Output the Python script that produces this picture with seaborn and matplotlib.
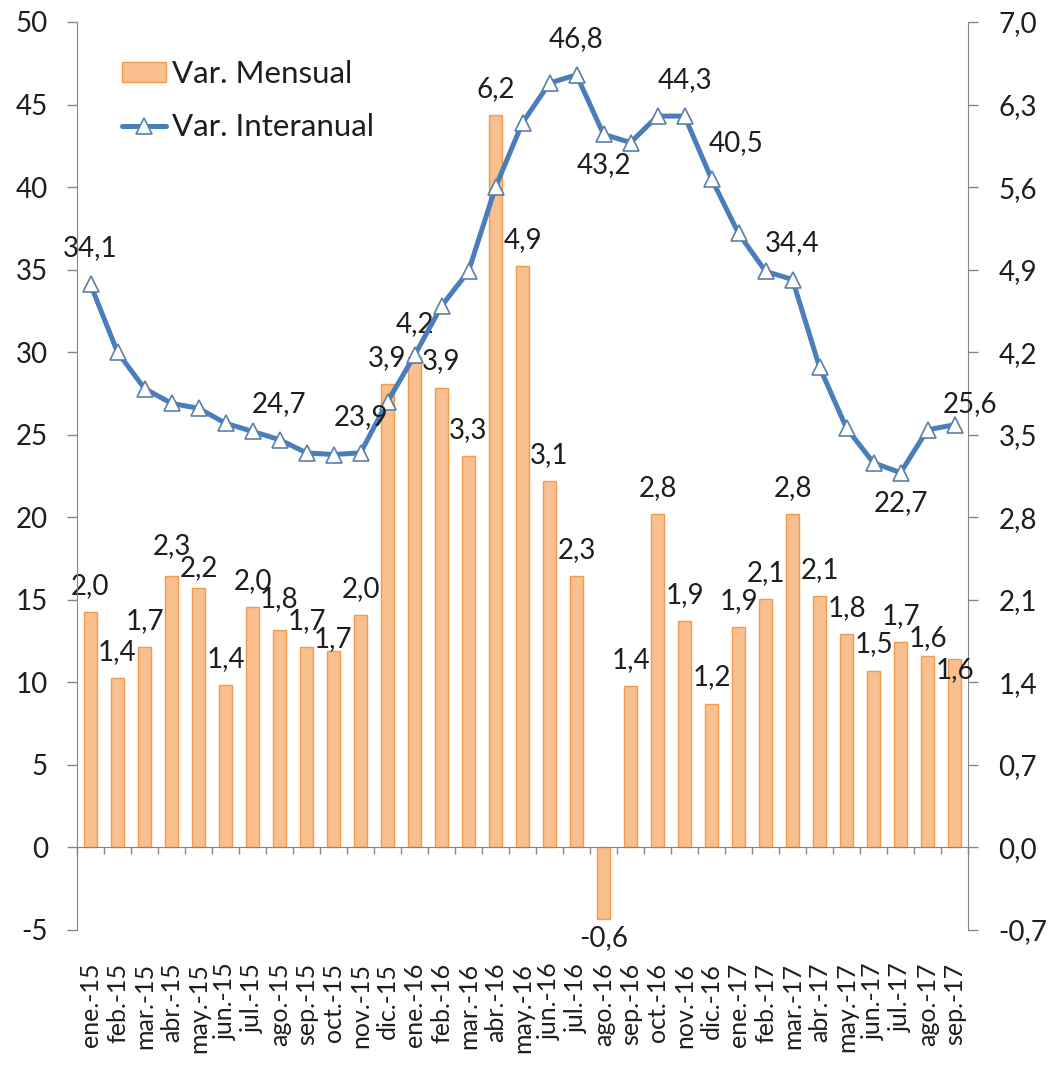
import numpy as np
import pandas as pd
import matplotlib
matplotlib.use("Agg")
import matplotlib.pyplot as plt
import seaborn as sns
from matplotlib.patches import Patch
from matplotlib.lines import Line2D

# ---------------- data ----------------
months = ['ene.-15', 'feb.-15', 'mar.-15', 'abr.-15', 'may.-15', 'jun.-15', 'jul.-15',
          'ago.-15', 'sep.-15', 'oct.-15', 'nov.-15', 'dic.-15',
          'ene.-16', 'feb.-16', 'mar.-16', 'abr.-16', 'may.-16', 'jun.-16', 'jul.-16',
          'ago.-16', 'sep.-16', 'oct.-16', 'nov.-16', 'dic.-16',
          'ene.-17', 'feb.-17', 'mar.-17', 'abr.-17', 'may.-17', 'jun.-17', 'jul.-17',
          'ago.-17', 'sep.-17']

var_mensual = [2.0, 1.44, 1.7, 2.3, 2.2, 1.38, 2.04, 1.84, 1.7, 1.67, 1.97, 3.93,
               4.16, 3.9, 3.32, 6.21, 4.93, 3.11, 2.3, -0.61, 1.37, 2.83, 1.92, 1.22,
               1.87, 2.11, 2.83, 2.13, 1.81, 1.5, 1.74, 1.62, 1.6]

var_interanual = [34.1, 30.0, 27.8, 26.9, 26.6, 25.7, 25.2, 24.7, 23.9, 23.8, 23.9, 27.0,
                  29.8, 32.8, 34.9, 40.0, 43.9, 46.3, 46.8, 43.2, 42.7, 44.3, 44.3, 40.5,
                  37.2, 34.9, 34.4, 29.1, 25.4, 23.3, 22.7, 25.3, 25.6]

# which points of the interanual line carry a label, and where it sits
line_label_pos = {0: 'above', 7: 'above', 10: 'above', 18: 'above', 19: 'below',
                  22: 'above', 23: 'above_right', 26: 'above', 30: 'below', 32: 'right_up'}

left_ticks = [-5, 0, 5, 10, 15, 20, 25, 30, 35, 40, 45, 50]
right_ticks = [-0.7, 0.0, 0.7, 1.4, 2.1, 2.8, 3.5, 4.2, 4.9, 5.6, 6.3, 7.0]

legend_labels = ['Var. Mensual', 'Var. Interanual']

# ---------------- style ----------------
BAR = '#F9BF8F'
BAR_EDGE = '#F39A4C'
LINE = '#4A7EBB'
MK_EDGE = '#5B7FA6'
GRAY = '#868686'
TXT = '#1E1E1E'
FS = 20
XFS = 18
LEG_FS = 22.5
PX = 72 / 100  # points per pixel

# small vertical nudges (px) of some bar labels, as placed in the original
bar_label_nudge = {3: 4, 4: -6, 7: 5, 9: -15, 12: 7, 31: -8, 32: -37}

sns.set_style('ticks')
plt.rcParams['font.family'] = ['Lato', 'DejaVu Sans']
plt.rcParams['font.size'] = FS


def fmt(v):
    return f'{v:.1f}'.replace('.', ',')


n = len(months)
df = pd.DataFrame({'mes': months, 'mensual': var_mensual,
                   'interanual': var_interanual, 'pos': np.arange(n)})

fig = plt.figure(figsize=(10.58, 10.66), dpi=100)
ax = fig.add_axes([77 / 1058, 1 - 930 / 1066, 891 / 1058, 908 / 1066])
ax2 = ax.twinx()

sns.barplot(data=df, x='mes', y='mensual', ax=ax, color=BAR, edgecolor=BAR_EDGE,
            linewidth=1.0, saturation=1, width=0.45)
sns.lineplot(data=df, x='pos', y='interanual', ax=ax2, color=LINE, linewidth=3.6,
             marker='^', markersize=12, markerfacecolor='white',
             markeredgecolor=MK_EDGE, markeredgewidth=1.2, legend=False)

ax.set_xlim(-0.5, n - 0.5)
ax.set_ylim(-0.7, 7.0)
ax2.set_ylim(-5, 50)

# axes sides: bars -> right scale, line -> left scale
ax.yaxis.tick_right()
ax.yaxis.set_label_position('right')
ax2.yaxis.tick_left()
ax.set_xlabel('')
ax.set_ylabel('')
ax2.set_xlabel('')
ax2.set_ylabel('')

ax.set_yticks(right_ticks)
ax.set_yticklabels([fmt(t) for t in right_ticks])
ax2.set_yticks(left_ticks)
ax2.set_yticklabels([str(t) for t in left_ticks])

for s in ['top', 'left']:
    ax.spines[s].set_visible(False)
ax.spines['right'].set_color(GRAY)
ax.spines['bottom'].set_position(('data', 0))
ax.spines['bottom'].set_color(GRAY)
for s in ['top', 'bottom', 'right']:
    ax2.spines[s].set_visible(False)
ax2.spines['left'].set_color(GRAY)

ax.tick_params(axis='y', which='major', right=True, left=False, direction='out',
               length=7, width=1, color=GRAY, pad=15, labelsize=FS, labelcolor=TXT)
ax2.tick_params(axis='y', which='major', left=True, right=False, direction='out',
                length=7, width=1, color=GRAY, pad=14, labelsize=FS, labelcolor=TXT)

ax.set_xticks(np.arange(n))
ax.set_xticklabels(months)
ax.set_xticks(np.arange(n + 1) - 0.5, minor=True)
ax.tick_params(axis='x', which='major', bottom=True, length=0, pad=83,
               labelrotation=90, labelsize=XFS, labelcolor=TXT)
ax.tick_params(axis='x', which='minor', bottom=True, length=5, width=1,
               direction='out', color=GRAY)

# bar labels
for i, v in enumerate(var_mensual):
    dy = bar_label_nudge.get(i, 0) * PX
    if v >= 0:
        ax.annotate(fmt(v), (i, v), xytext=(0, 13 + dy), textcoords='offset points',
                    ha='center', va='baseline', fontsize=FS, color=TXT)
    else:
        ax.annotate(fmt(v), (i, v), xytext=(0, -4), textcoords='offset points',
                    ha='center', va='top', fontsize=FS, color=TXT)

# line labels
offsets = {'above': (0, 26), 'below': (0, -22), 'above_right': (18, 26), 'right_up': (11, 15)}
for i, where in line_label_pos.items():
    ax2.annotate(fmt(var_interanual[i]), (i, var_interanual[i]), xytext=offsets[where],
                 textcoords='offset points', ha='center', va='center',
                 fontsize=FS, color=TXT)

handles = [Patch(facecolor=BAR, edgecolor=BAR_EDGE),
           Line2D([0], [0], color=LINE, lw=3.6, marker='^', ms=12,
                  mfc='white', mec=MK_EDGE, mew=1.2)]
ax2.legend(handles, legend_labels, loc='upper left', bbox_to_anchor=(0.051, 0.958),
           frameon=False, fontsize=LEG_FS, handlelength=1.4, handleheight=0.62,
           handletextpad=0.2, labelspacing=0.8, borderaxespad=0, borderpad=0,
           labelcolor=TXT)

fig.savefig('out.png', dpi=100)
